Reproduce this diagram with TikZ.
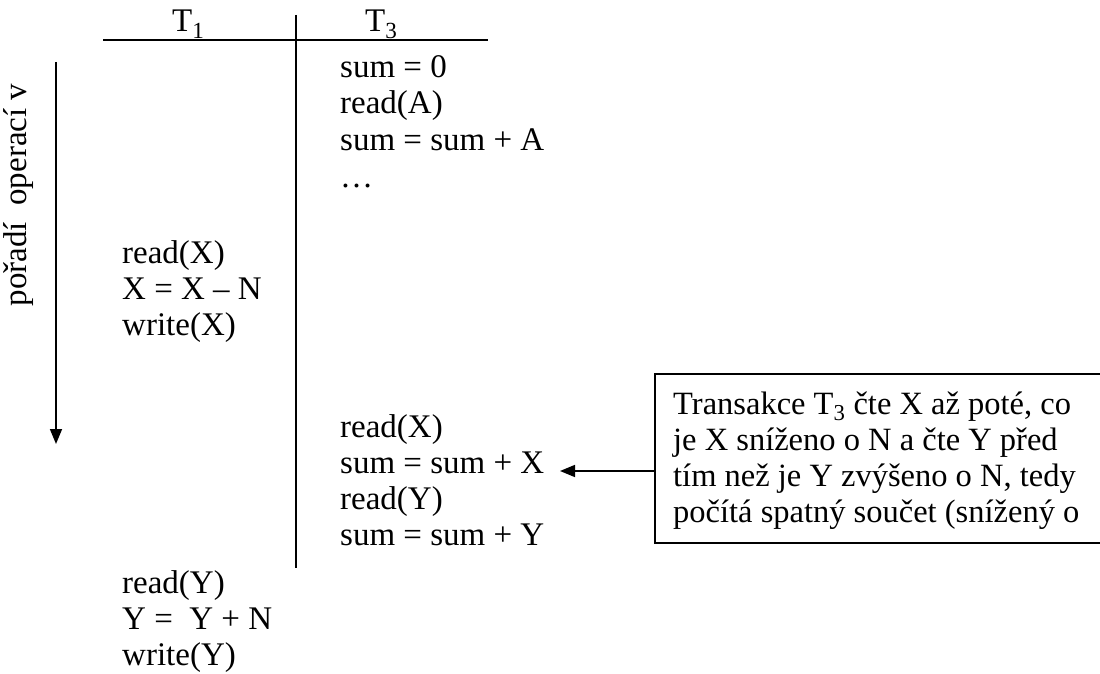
\documentclass[tikz,border=0pt]{standalone}
\usepackage{fontspec}
\setmainfont{Liberation Serif}
\usetikzlibrary{arrows.meta}
\begin{document}
\begin{tikzpicture}[x=1pt,y=-1pt,
  txt/.style={anchor=base west, inner sep=0pt, font=\fontsize{33}{36}\selectfont},
  note/.style={txt, font=\fontsize{32.5}{36}\selectfont},
  rule/.style={line width=1.6pt},
  arr/.style={line width=1.6pt, -{Triangle[length=15pt,width=12pt]}}]
\useasboundingbox (0,0) rectangle (1100,674);
% header
\node[txt] (h1) at (172,32) {T\textsubscript{1}};
\node[txt] (h3) at (365,32) {T\textsubscript{3}};
\coordinate (hl) at (103,40);
\coordinate (hr) at (488,40);
\coordinate (vt) at (296,15);
\coordinate (vb) at (296,568);
\draw[rule] (hl) -- (hr);
\draw[rule] (vt) -- (vb);
% time arrow
\coordinate (ta) at (56,62);
\coordinate (tb) at (56,444);
\draw[arr] (ta) -- (tb);
\node[txt, anchor=center, rotate=90] (order) at (19,195) {pořadí\ \ operací v};
% T3 first block
\node[txt] (a1) at (340,78) {sum = 0};
\node[txt] (a2) at (340,114) {read(A)};
\node[txt] (a3) at (340,150) {sum = sum + A};
\node[txt] (a4) at (340,187) {…};
% T1 first block
\node[txt] (b1) at (122,263) {read(X)};
\node[txt] (b2) at (122,299) {X = X – N};
\node[txt] (b3) at (122,335) {write(X)};
% T3 second block
\node[txt] (c1) at (340,437) {read(X)};
\node[txt] (c2) at (340,473) {sum = sum + X};
\node[txt] (c3) at (340,509) {read(Y)};
\node[txt] (c4) at (340,545) {sum = sum + Y};
% T1 second block
\node[txt] (d1) at (122,593) {read(Y)};
\node[txt] (d2) at (122,629) {Y = \ Y + N};
\node[txt] (d3) at (122,665) {write(Y)};
% note box (open on the right: it runs past the picture's edge)
\coordinate (nbr) at (1100,374);
\coordinate (ntl) at (655,374);
\coordinate (nbl) at (655,543);
\coordinate (nbb) at (1100,543);
\draw[rule] (nbr) -- (ntl) -- (nbl) -- (nbb);
\node[note] (n1) at (673,414) {Transakce T\textsubscript{3} čte X až poté, co};
\node[note] (n2) at (673,450) {je X sníženo o N a čte Y před};
\node[note] (n3) at (673,486) {tím než je Y zvýšeno o N, tedy};
\node[note] (n4) at (673,522) {počítá spatný součet (snížený o};
\coordinate (pl) at (655,471);
\coordinate (pt) at (560,471);
\draw[arr] (pl) -- (pt);
\end{tikzpicture}
\end{document}
